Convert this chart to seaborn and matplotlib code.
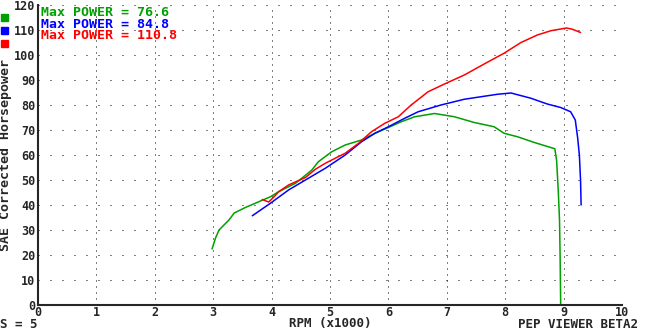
import matplotlib
matplotlib.use("Agg")
import matplotlib.pyplot as plt
import seaborn as sns
import pandas as pd

# dyno runs
green_rpm = [2.98, 3.04, 3.1, 3.27, 3.36, 3.55, 3.78, 3.98, 4.12, 4.41, 4.69, 4.8, 5.03, 5.26,
             5.54, 5.77, 6.0, 6.22, 6.45, 6.79, 7.13, 7.47, 7.81, 7.98, 8.21, 8.5, 8.78, 8.85,
             8.88, 8.91, 8.93, 8.94, 8.95]
green_hp = [22.4, 26.8, 30, 34, 36.8, 39, 41.3, 43.3, 45.3, 48.7, 54, 57.3, 61.3, 64,
            66, 68.7, 71, 73.3, 75.3, 76.6, 75.3, 73, 71.3, 68.7, 67.3, 65, 63, 62.5,
            58, 45, 34, 20, 0]

blue_rpm = [3.67, 3.98, 4.29, 4.63, 4.92, 5.26, 5.54, 5.77, 6.0, 6.28, 6.51, 6.9, 7.3, 7.87,
            8.1, 8.44, 8.72, 8.95, 9.12, 9.2, 9.24, 9.27, 9.29, 9.3]
blue_hp = [35.7, 40.7, 46, 50.7, 54.7, 60, 65.3, 68.7, 71.3, 74.7, 77.3, 80, 82.3, 84.3,
           84.8, 82.7, 80.4, 79, 77.3, 74, 67, 60, 50, 40]

red_rpm = [3.84, 3.95, 4.05, 4.12, 4.29, 4.58, 4.75, 4.92, 5.14, 5.26, 5.49, 5.71, 5.94, 6.17,
           6.39, 6.68, 6.96, 7.3, 7.64, 7.98, 8.27, 8.55, 8.78, 9.05, 9.15, 9.29]
red_hp = [42.2, 41.2, 43.5, 45.3, 48, 51, 54.3, 56.7, 59.3, 60.7, 64.7, 69.3, 72.7, 75.3,
          80, 85.3, 88.4, 92, 96.4, 100.7, 105, 108, 109.7, 110.8, 110.3, 109]

max_labels = ["Max POWER = 76.6", "Max POWER = 84.8", "Max POWER = 110.8"]
colors = ["#00a000", "#0000ff", "#ff0000"]

sns.set_style("white")
plt.rcParams['font.family'] = ['DejaVu Sans Mono']
plt.rcParams['font.weight'] = 'bold'

fig = plt.figure(figsize=(6.47, 3.30), dpi=100)
ax = fig.add_axes([38 / 647, 25 / 330, 584 / 647, 300 / 330])

runs = [(green_rpm, green_hp), (blue_rpm, blue_hp), (red_rpm, red_hp)]
for (rpm, hp), c in zip(runs, colors):
    df = pd.DataFrame({"rpm": rpm, "hp": hp})
    sns.lineplot(data=df, x="rpm", y="hp", ax=ax, color=c, lw=1.1,
                 sort=False, estimator=None)

ax.set_xlim(0, 10)
ax.set_ylim(0, 120)
ax.set_xticks(range(0, 11))
ax.set_yticks(range(0, 121, 10))
ax.tick_params(axis="y", length=0, labelsize=8.5, pad=2)
ax.tick_params(axis="x", length=0, labelsize=8.5, pad=0.5)
for lab in ax.get_xticklabels() + ax.get_yticklabels():
    lab.set_fontweight('bold')

# dotted grid
for x in range(1, 11):
    ax.axvline(x, color="black", lw=0.72, ls=(0, (1, 5)), zorder=0)
for y in range(10, 121, 10):
    ax.axhline(y, color="black", lw=0.72, ls=(0, (1, 11)), zorder=0)

sns.despine(ax=ax)
ax.spines['left'].set_linewidth(1.5)
ax.spines['bottom'].set_linewidth(1.5)
ax.set_xlabel("")
ax.set_ylabel("")

fig.text(6 / 647, 0.53, "SAE Corrected Horsepower", rotation=90, ha="center", va="center",
         fontsize=9.5, fontweight="bold")
fig.text(0.0, 6 / 330, "S = 5", ha="left", va="center", fontsize=9, fontweight="bold")
fig.text(330 / 647, 6 / 330, "RPM (x1000)", ha="center", va="center", fontsize=9, fontweight="bold")
fig.text(638 / 647, 6 / 330, "PEP VIEWER BETA2", ha="right", va="center", fontsize=9, fontweight="bold")

# legend squares and max power labels
for i, (lab, c) in enumerate(zip(max_labels, colors)):
    ypix = 17 + i * 13
    fig.patches.append(plt.Rectangle((1 / 647, 1 - (ypix + 4) / 330), 7 / 647, 7 / 330,
                                     transform=fig.transFigure, color=c, figure=fig))
    fig.text(41 / 647, 1 - (12.5 + i * 11.5) / 330, lab, color=c, ha="left", va="center",
             fontsize=9.5, fontweight="bold")

fig.savefig("out.png", dpi=100)
